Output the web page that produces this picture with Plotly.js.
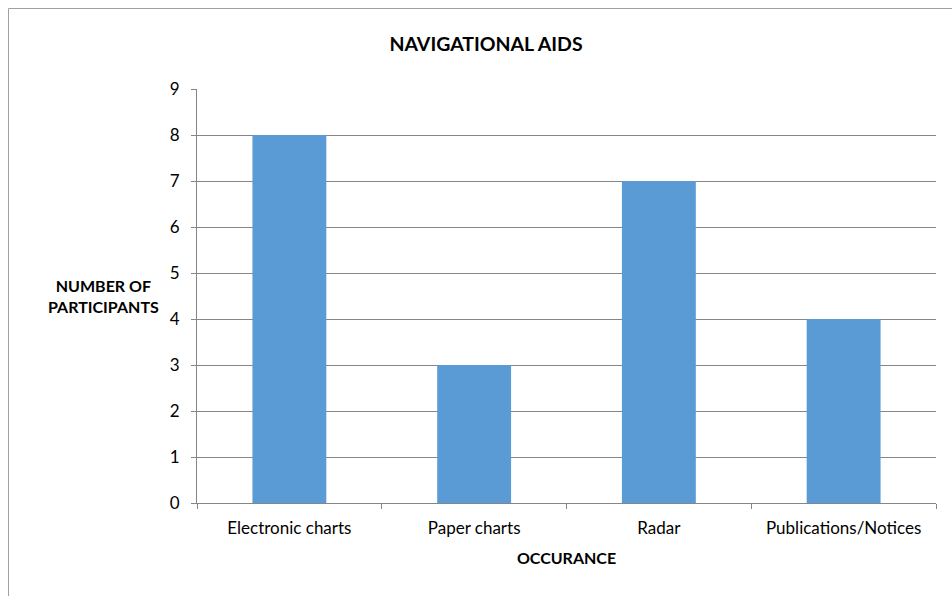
<!DOCTYPE html>
<html><head><meta charset="utf-8">
<script src="https://cdn.plot.ly/plotly-3.0.1.min.js"></script>
<style>body{margin:0;padding:0;background:#fff}#chart{width:952px;height:596px}</style>
</head><body><div id="chart"></div>
<script>
const categories = ["Electronic charts", "Paper charts", "Radar", "Publications/Notices"];
const participants = [8, 3, 7, 4];
const yTicks = [0, 1, 2, 3, 4, 5, 6, 7, 8, 9];

const font = "Lato, 'Open Sans', sans-serif";
const trace = {
  type: "bar", x: categories, y: participants,
  marker: {color: "#5b9bd5"}, hoverinfo: "skip"
};
const layout = {
  width: 952, height: 596,
  margin: {l: 197, r: 16, t: 89, b: 93},
  paper_bgcolor: "#fff", plot_bgcolor: "#fff",
  bargap: 0.6, showlegend: false,
  font: {family: font, size: 17, color: "#000"},
  title: {text: "<b>NAVIGATIONAL AIDS</b>", xref: "container", x: 486/952, xanchor: "center",
          yref: "container", y: 1 - 44/596, yanchor: "middle", font: {size: 19.5, family: font}},
  xaxis: {
    showline: true, linecolor: "#868686", linewidth: 1,
    ticks: "outside", tickson: "boundaries", ticklen: 5, tickcolor: "#868686",
    showgrid: false, tickfont: {size: 17}, ticklabelstandoff: 10,
    title: {text: "<b>OCCURANCE</b>", font: {size: 16}, standoff: 15}
  },
  yaxis: {
    range: [0, 9], tickvals: yTicks, showline: true, linecolor: "#868686",
    ticks: "outside", ticklen: 5, tickcolor: "#868686",
    gridcolor: "#868686", gridwidth: 1, zeroline: false, tickfont: {size: 17}, ticklabelstandoff: 8
  },
  annotations: [{
    text: "<b>NUMBER OF<br>PARTICIPANTS</b>", xref: "paper", yref: "paper",
    x: (103 - 197)/739, y: (503 - 296)/414, xanchor: "center", yanchor: "middle",
    showarrow: false, font: {size: 16, family: font}, align: "center"
  }],
  shapes: [{
    type: "rect", xref: "paper", yref: "paper",
    x0: (8.5 - 197)/739, x1: (965 - 197)/739, y0: (503 - 610)/414, y1: (503 - 8.5)/414,
    line: {color: "#a0a0a0", width: 1}, fillcolor: "rgba(0,0,0,0)", layer: "below"
  }]
};
Plotly.newPlot("chart", [trace], layout, {displayModeBar: false, staticPlot: true});
</script></body></html>
